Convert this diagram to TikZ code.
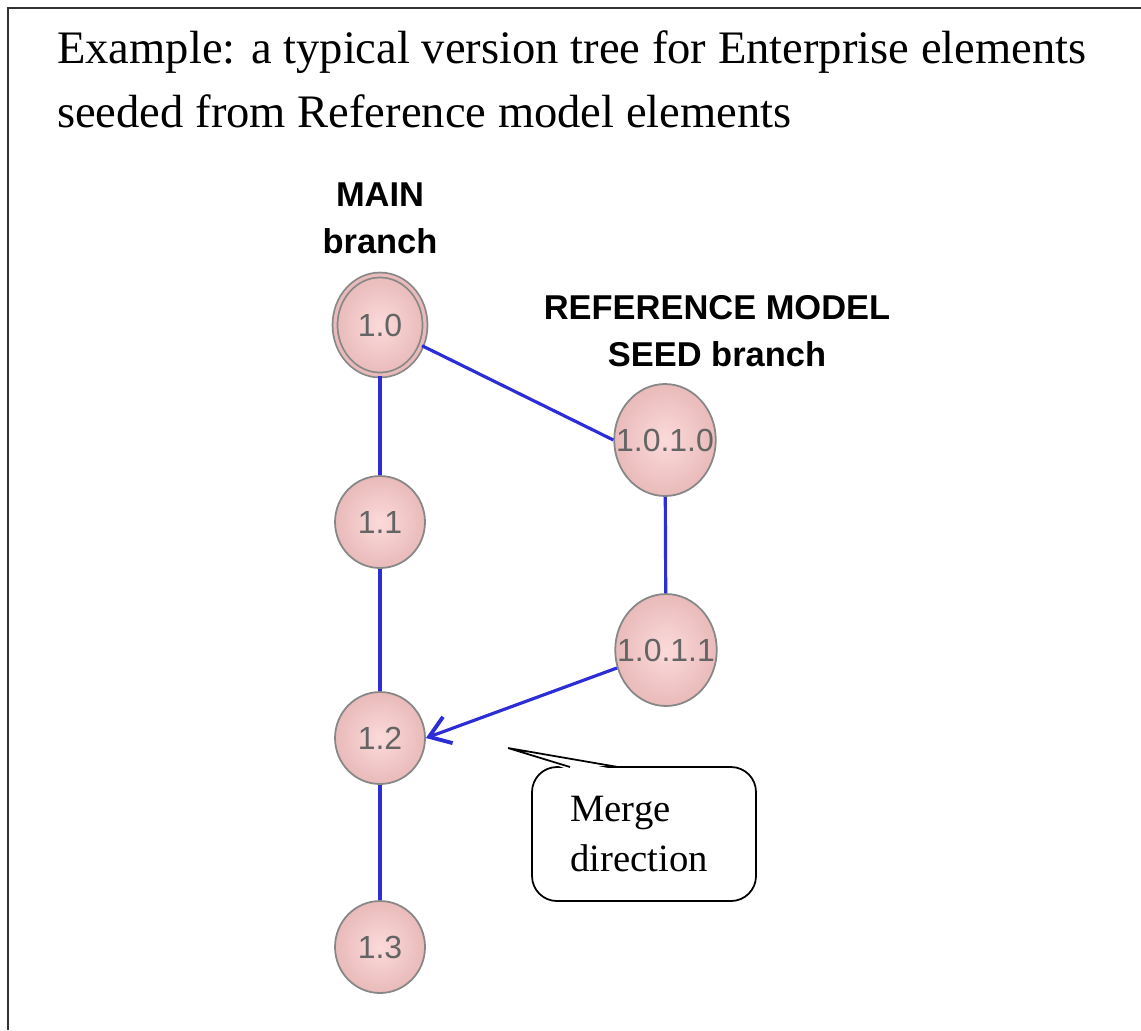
\documentclass[tikz,border=0pt]{standalone}
\usepackage{fontspec}
\setmainfont{Liberation Serif}
\setsansfont{Liberation Sans}
\usetikzlibrary{shapes.geometric, arrows.meta, positioning, calc}

\definecolor{edgeblue}{RGB}{45,45,215}
\definecolor{nodepink}{RGB}{233,186,186}
\definecolor{nodecore}{RGB}{252,218,218}
\definecolor{rimgray}{RGB}{135,135,135}
\definecolor{labelgray}{RGB}{100,100,100}

\tikzset{
  version/.style={ellipse, draw=rimgray, line width=0.5pt, inner color=nodecore, outer color=nodepink,
    minimum width=0.9cm, minimum height=0.92cm, inner sep=0pt,
    font=\sffamily\fontsize{9.1}{10}\selectfont, text=labelgray},
  seedversion/.style={version, inner xsep=-0.13cm, minimum width=1.0cm, minimum height=1.12cm},
  link/.style={edgeblue, line width=0.9pt},
  branchlabel/.style={font=\sffamily\bfseries\fontsize{9.8}{13.4}\selectfont, align=center},
  titletext/.style={anchor=base west, inner sep=0pt, font=\fontsize{13.25}{16}\selectfont}
}

\begin{document}
\begin{tikzpicture}
\useasboundingbox (0,0) rectangle (11.41,-10.30);

% Frame
\draw[line width=0.7pt, black!80] (0.08,-10.30) -- (0.08,-0.08) -- (11.41,-0.08);

% Title
\node[titletext] (title1) at (0.565,-0.635) {Example: a typical version tree for Enterprise elements};
\node[titletext] (title2) at (0.565,-1.27) {seeded from Reference model elements};

% Branch labels
\node[branchlabel] (mainlabel) at (3.80,-2.18) {MAIN\\branch};
\node[branchlabel] (seedlabel) at (7.17,-3.31) {REFERENCE MODEL\\SEED branch};

% MAIN branch versions
\node[version, minimum height=1.0cm, double=nodepink, double distance=0.9pt] (m10) at (3.80,-3.25) {1.0};
\node[version] (m11) at (3.80,-5.22) {1.1};
\node[version] (m12) at (3.80,-7.38) {1.2};
\node[version] (m13) at (3.80,-9.47) {1.3};

% SEED branch versions
\node[seedversion] (r10) at (6.65,-4.40) {1.0.1.0};
\node[seedversion] (r11) at (6.66,-6.50) {1.0.1.1};

% Connectors
\draw[link] (m10) -- (r10.west);
\draw[link] (m10) -- (m11);
\draw[link] (m11) -- (m12);
\draw[link] (m12) -- (m13);
\draw[link] (r10) -- (r11);
\draw[link, -{Straight Barb[length=2mm, width=2.8mm, line width=1.1pt]}] (r11) -- (m12.east);

% Callout
\node[draw, line width=0.5pt, rounded corners=0.25cm, minimum width=2.24cm, minimum height=1.34cm,
  align=left, font=\fontsize{11}{14}\selectfont] (merge) at (6.44,-8.34) {Merge\\direction\hspace*{0.1cm}};
\coordinate (tip) at (5.08,-7.48);
\fill[white] (5.70,-7.70) -- (tip) -- (6.18,-7.70) -- cycle;
\draw[line width=0.5pt] (5.70,-7.67) -- (tip) -- (6.18,-7.67);
\end{tikzpicture}
\end{document}
